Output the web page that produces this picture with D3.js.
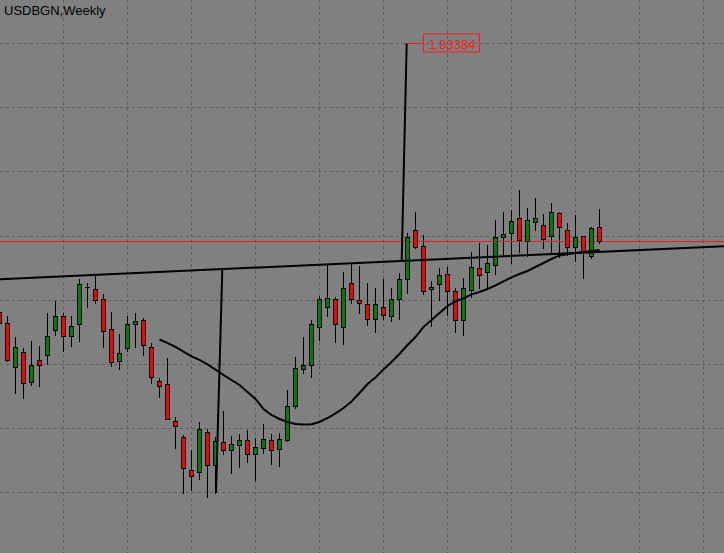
<!DOCTYPE html>
<html><head><meta charset="utf-8">
<script src="https://cdn.jsdelivr.net/npm/d3@7"></script>
<style>html,body{margin:0;padding:0;background:#808080;overflow:hidden}</style>
</head><body>
<svg id="c" width="724" height="553"></svg>
<script>
const title = "USDBGN,Weekly";
const firstIndex = -1;
const openP = [1.6993,1.6938,1.6720,1.6793,1.6642,1.6753,1.6777,1.6902,1.6972,1.6872,1.6932,1.7120,1.7107,1.7057,1.6907,1.6748,1.6815,1.6932,1.6953,1.6817,1.6647,1.6632,1.6447,1.6368,1.6202,1.6192,1.6392,1.6227,1.6342,1.6302,1.6327,1.6352,1.6282,1.6312,1.6352,1.6306,1.6353,1.6523,1.6710,1.6727,1.6920,1.7020,1.7057,1.6920,1.7137,1.7051,1.7032,1.6957,1.7017,1.6975,1.7057,1.7160,1.7403,1.7323,1.7107,1.7133,1.7185,1.7098,1.6953,1.7103,1.7215,1.7192,1.7228,1.7370,1.7387,1.7462,1.7350,1.7442,1.7427,1.7375,1.7487,1.7402,1.7320,1.7372,1.7275,1.7420];
const highP = [1.7028,1.6973,1.6870,1.6812,1.6848,1.6823,1.6987,1.7048,1.6987,1.6973,1.7157,1.7137,1.7178,1.7083,1.6993,1.6883,1.6973,1.6987,1.6965,1.6840,1.6663,1.6762,1.6467,1.6378,1.6303,1.6443,1.6410,1.6368,1.6498,1.6375,1.6382,1.6403,1.6362,1.6432,1.6383,1.6388,1.6603,1.6767,1.6867,1.6952,1.7075,1.7233,1.7067,1.7195,1.7233,1.7223,1.7137,1.7112,1.7157,1.7112,1.7187,1.7390,1.7492,1.7378,1.7150,1.7213,1.7217,1.7112,1.7162,1.7295,1.7337,1.7326,1.7453,1.7493,1.7503,1.7603,1.7512,1.7562,1.7483,1.7537,1.7495,1.7437,1.7478,1.7373,1.7420,1.7508];
const lowP = [1.6903,1.6748,1.6587,1.6562,1.6628,1.6625,1.6733,1.6877,1.6800,1.6823,1.6850,1.7017,1.7037,1.6820,1.6725,1.6710,1.6800,1.6820,1.6777,1.6637,1.6567,1.6457,1.6315,1.6090,1.6103,1.6157,1.6070,1.6088,1.6283,1.6187,1.6220,1.6245,1.6153,1.6290,1.6233,1.6221,1.6348,1.6512,1.6690,1.6670,1.6853,1.6973,1.6845,1.6832,1.7037,1.6987,1.6928,1.6895,1.6957,1.6950,1.6957,1.7090,1.7311,1.7082,1.6923,1.7053,1.6978,1.6895,1.6878,1.7070,1.7112,1.7112,1.7183,1.7273,1.7237,1.7293,1.7275,1.7403,1.7312,1.7287,1.7270,1.7278,1.7248,1.7162,1.7262,1.7337];
const closeP = [1.6938,1.6753,1.6817,1.6637,1.6727,1.6727,1.6872,1.6972,1.6872,1.6922,1.7132,1.7120,1.7053,1.6897,1.6742,1.6787,1.6932,1.6947,1.6827,1.6667,1.6622,1.6460,1.6422,1.6212,1.6173,1.6407,1.6227,1.6347,1.6305,1.6332,1.6353,1.6283,1.6316,1.6357,1.6301,1.6357,1.6523,1.6712,1.6727,1.6932,1.7057,1.7062,1.6932,1.7112,1.7057,1.7036,1.6957,1.7032,1.6977,1.7057,1.7160,1.7367,1.7316,1.7098,1.7117,1.7177,1.7098,1.6953,1.7115,1.7220,1.7178,1.7237,1.7367,1.7382,1.7448,1.7353,1.7453,1.7465,1.7357,1.7492,1.7420,1.7317,1.7368,1.7295,1.7412,1.7350];
const maStart = 19;
const maValues = [1.6856,1.6838,1.6819,1.6795,1.6771,1.6754,1.6731,1.6705,1.6678,1.6653,1.6628,1.6593,1.6558,1.6508,1.6478,1.6458,1.6443,1.6433,1.6431,1.6432,1.6443,1.6463,1.6486,1.6513,1.6546,1.6588,1.6633,1.6666,1.6706,1.6743,1.6783,1.6828,1.6868,1.6918,1.6953,1.6988,1.7023,1.7046,1.7061,1.7081,1.7093,1.7108,1.7126,1.7146,1.7166,1.7183,1.7198,1.7218,1.7238,1.7258,1.7276,1.7283,1.7288,1.7293,1.7298,1.7303];
const gridPrices = [1.8338,1.8018,1.7698,1.7373,1.7053,1.6733,1.6413,1.6093];
const gridBarStart = 7, gridBarStep = 8;
const necklineAnchors = [{k:9,p:1.7175},{k:70,p:1.7286}];
const measureLine1 = [{k:26.06,p:1.6088},{k:26.85,p:1.7203}];
const measureLine2 = [{k:49.27,p:1.7243},{k:49.9,p:1.83384}];
const targetLabel = "1.83384";
const targetLabelBar = 51.94;

const W = 724, H = 553;
const svg = d3.select("#c");
const x = d3.scaleLinear().domain([0, 1]).range([7.5, 15.5]);
const y = d3.scaleLinear().domain([1.8553, 1.8553 - H/2000]).range([0, H]);
const cy = p => Math.round(y(p)) + 0.5;

svg.append("rect").attr("width", W).attr("height", H).attr("fill", "#808080");

// grid
const gridG = svg.append("g").attr("stroke", "#5e5e5e").attr("stroke-width", 1).attr("stroke-dasharray", "3,3");
gridG.selectAll("line.h").data(gridPrices).join("line").attr("class","h")
  .attr("x1", 0).attr("x2", W).attr("y1", d => cy(d)).attr("y2", d => cy(d));
const gridBars = d3.range(gridBarStart, 90, gridBarStep);
gridG.selectAll("line.v").data(gridBars).join("line").attr("class","v")
  .attr("x1", d => x(d)).attr("x2", d => x(d)).attr("y1", 0).attr("y2", H);

// bid line
const lastClose = closeP[closeP.length - 1];
svg.append("line").attr("x1", 0).attr("x2", W).attr("y1", cy(lastClose)).attr("y2", cy(lastClose))
  .attr("stroke", "#ee1c1c").attr("stroke-width", 1).attr("shape-rendering", "crispEdges");

// candles
const bars = openP.map((o, i) => ({k: i + firstIndex, o, h: highP[i], l: lowP[i], c: closeP[i]}));
const cg = svg.append("g");
const g = cg.selectAll("g").data(bars).join("g");
g.append("line").attr("x1", d => x(d.k)).attr("x2", d => x(d.k))
  .attr("y1", d => Math.round(y(d.h))).attr("y2", d => Math.round(y(d.l)) + 1)
  .attr("stroke", "#000").attr("stroke-width", 1);
g.filter(d => d.o !== d.c).append("rect")
  .attr("x", d => x(d.k) - 2).attr("width", 4)
  .attr("y", d => cy(Math.max(d.o, d.c)))
  .attr("height", d => Math.max(1, cy(Math.min(d.o, d.c)) - cy(Math.max(d.o, d.c))))
  .attr("fill", d => d.c > d.o ? "#008000" : "#ff0000")
  .attr("stroke", "#000").attr("stroke-width", 1);
g.filter(d => d.o === d.c).append("line")
  .attr("x1", d => x(d.k) - 2.5).attr("x2", d => x(d.k) + 2.5)
  .attr("y1", d => cy(d.o)).attr("y2", d => cy(d.o))
  .attr("stroke", "#000").attr("stroke-width", 1);

// moving average
const maData = maValues.map((v, i) => ({k: maStart + i, v}));
svg.append("path").datum(maData)
  .attr("d", d3.line().x(d => x(d.k)).y(d => y(d.v)))
  .attr("fill", "none").attr("stroke", "#000").attr("stroke-width", 2);

// neckline extended across the chart
const [a, b] = necklineAnchors;
const slope = (b.p - a.p) / (b.k - a.k);
const kL = x.invert(0), kR = x.invert(W);
svg.append("line")
  .attr("x1", 0).attr("y1", y(a.p + slope * (kL - a.k)))
  .attr("x2", W).attr("y2", y(a.p + slope * (kR - a.k)))
  .attr("stroke", "#000").attr("stroke-width", 2);

[measureLine1, measureLine2].forEach(ln => {
  svg.append("line")
    .attr("x1", x(ln[0].k)).attr("y1", y(ln[0].p))
    .attr("x2", x(ln[1].k)).attr("y2", y(ln[1].p))
    .attr("stroke", "#000").attr("stroke-width", 2);
});

// target label
const ty = cy(measureLine2[1].p);
svg.append("line").attr("x1", x(measureLine2[1].k)).attr("x2", x(targetLabelBar))
  .attr("y1", ty).attr("y2", ty).attr("stroke", "#ff1a1a").attr("stroke-width", 1);
const lx = Math.round(x(targetLabelBar)) + 0.5;
svg.append("rect").attr("x", lx).attr("y", ty - 9.5).attr("width", 56).attr("height", 18)
  .attr("fill", "none").attr("stroke", "#ff1a1a").attr("stroke-width", 1);
svg.append("text").attr("x", lx + 5).attr("y", ty + 5)
  .attr("font-family", "Liberation Sans, Arial, sans-serif").attr("font-size", 13)
  .attr("fill", "#ff1a1a").text(targetLabel);

// title
svg.append("text").attr("x", 4).attr("y", 15)
  .attr("font-family", "Liberation Sans, Arial, sans-serif").attr("font-size", 13)
  .attr("fill", "#000").text(title);
</script>
</body></html>
